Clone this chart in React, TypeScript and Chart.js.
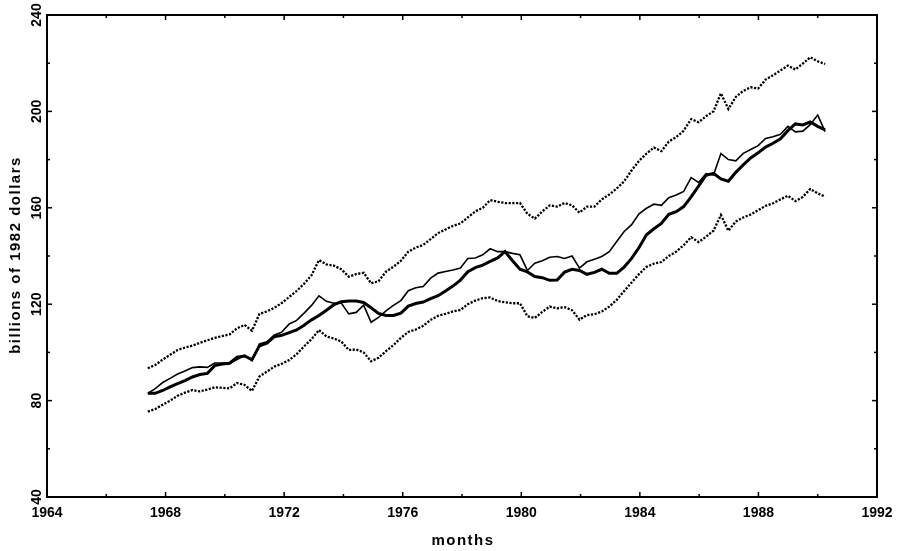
import React, { useEffect, useRef } from "react";
import { Chart, registerables } from "chart.js";

Chart.register(...registerables);

// ---- data ----
const FIRST_MONTH = 1967.4;
const LAST_MONTH = 1990.25;

const upperBand = [
  93.4, 94.8, 97, 99, 101, 102, 102.8, 104, 105, 106,
  106.8, 107.5, 110, 111.4, 109, 116, 117, 118.5, 120.5, 123,
  125.5, 128.5, 132, 138.3, 136.5, 136, 134.5, 131.4, 132.5, 133,
  128.7, 129.5, 133.5, 135.5, 138, 141.8, 143.5, 144.6, 147, 149.5,
  151, 152.5, 153.5, 156, 158.5, 160, 163.2, 162.5, 162, 161.9,
  162, 157.5, 155.5, 158.5, 161, 160.5, 162, 161, 158, 160.5,
  160.5, 163.5, 165.5, 168, 171, 175.5, 179.5, 182.5, 185, 183.5,
  187.5, 189.3, 192, 196.8, 195.5, 198, 200, 207.5, 201, 206,
  208.5, 210, 209.5, 213.2, 215, 217, 219, 217.4, 219.8, 222.5,
  220.8, 219.7,
];

const lowerBand = [
  75.4, 76.5, 78.3, 80, 82, 83.3, 84.4, 83.8, 84.6, 85.5,
  85.3, 85.1, 87.3, 86.5, 84, 90, 92, 94.1, 95.3, 96.8,
  99.3, 102.5, 105.5, 109.3, 106.6, 105.8, 104.5, 101, 101.2, 100,
  96.3, 97.8, 100.5, 103, 106, 108.5, 109.5, 111, 113.5, 115.2,
  116, 117, 117.6, 120, 121.5, 122.5, 122.8, 121.3, 120.8, 120.4,
  120.4, 115, 114.3, 116.8, 119, 118.3, 118.8, 117.5, 113.6, 115.5,
  115.8, 117, 119, 121.8, 125.5, 129, 132.5, 135.5, 136.8, 137.5,
  140, 141.8, 144.5, 147.8, 145.8, 148, 150.5, 157, 150.5, 154.3,
  156, 157.2, 159, 160.8, 161.9, 163.5, 165, 162.8, 164.5, 167.8,
  166, 164.6,
];

const actualSeries = [
  83.0, 85, 87.5, 89.2, 91, 92.3, 93.7, 94, 93.8, 95.6,
  95.6, 95.5, 97, 98.8, 96.5, 103.5, 104.4, 107.2, 108.4, 111.8,
  113.3, 116.3, 119.5, 123.5, 121.2, 120.4, 120.5, 116, 116.6, 119.6,
  112.5, 114.5, 117.2, 119.5, 121.5, 125.6, 126.8, 127.3, 130.8, 132.9,
  133.6, 134.2, 135, 139, 139.2, 140.5, 143, 141.8, 141.8, 141.1,
  140.5, 134, 137, 138, 139.5, 139.8, 139, 140, 135, 137.6,
  138.7, 139.8, 141.8, 146, 150.2, 153, 157.5, 159.8, 161.5, 161,
  164.2, 165.3, 166.8, 172.5, 170.5, 174.2, 173.6, 182.5, 180, 179.5,
  182.6, 184.2, 185.8, 188.8, 189.5, 190.5, 193.8, 191.5, 191.8, 194.5,
  198.5, 191.6,
];

const fittedSeries = [
  83.0, 83.0, 84.2, 85.7, 87, 88.3, 89.8, 90.8, 91.3, 94.5,
  95.2, 95.5, 98, 98.5, 97, 102.7, 103.8, 106.5, 107.1, 108.2,
  109.3, 111.3, 113.5, 115.3, 117.5, 119.8, 121.0, 121.3, 121.3, 120.7,
  118.5, 116.2, 115.3, 115.3, 116.3, 119.2, 120.3, 120.9, 122.3, 123.5,
  125.5, 127.5, 130, 133.5, 135.2, 136.2, 137.8, 139.2, 141.8, 138,
  134.5, 133.4, 131.5, 131, 129.9, 130, 133.3, 134.5, 134, 132.4,
  133.2, 134.5, 132.8, 132.8, 135.4, 139, 143.5, 148.8, 151.3, 153.5,
  157.3, 158.4, 160.5, 164.5, 169, 173.5, 174.3, 172, 171, 174.7,
  177.8, 180.7, 182.8, 185.2, 186.8, 188.6, 192, 194.8, 194.4, 195.6,
  193.8, 192.3,
];

const xTickLabels = [1964, 1968, 1972, 1976, 1980, 1984, 1988, 1992];
const yTickLabels = [40, 80, 120, 160, 200, 240];
const X_TITLE = "months";
const Y_TITLE = "billions of 1982 dollars";

const months = upperBand.map(
  (_, i) => FIRST_MONTH + (i * (LAST_MONTH - FIRST_MONTH)) / (upperBand.length - 1)
);
const toPoints = (vals: number[]) => vals.map((y, i) => ({ x: months[i], y }));

const FONT = '"Liberation Sans", Arial, Helvetica, sans-serif';

const framePlugin = {
  id: "frame",
  afterDatasetsDraw(chart: any) {
    const { ctx, chartArea: a, scales } = chart;
    const xs = scales.x;
    const ys = scales.y;
    ctx.save();
    ctx.strokeStyle = "#000";
    ctx.lineWidth = 2;
    ctx.strokeRect(a.left, a.top, a.right - a.left, a.bottom - a.top);

    ctx.lineWidth = 1.5;
    const seg = (x1: number, y1: number, x2: number, y2: number) => {
      ctx.beginPath();
      ctx.moveTo(x1, y1);
      ctx.lineTo(x2, y2);
      ctx.stroke();
    };
    xs.ticks.forEach((t: any) => {
      const px = xs.getPixelForValue(t.value);
      if (px <= a.left + 1 || px >= a.right - 1) return;
      const len = t.value % 4 === 0 ? 5 : 3;
      seg(px, a.bottom, px, a.bottom - len);
      seg(px, a.top, px, a.top + len);
    });
    ys.ticks.forEach((t: any) => {
      const py = ys.getPixelForValue(t.value);
      if (py <= a.top + 1 || py >= a.bottom - 1) return;
      const len = (t.value - 40) % 40 === 0 ? 5 : 3;
      seg(a.left, py, a.left + len, py);
      seg(a.right, py, a.right - len, py);
    });

    ctx.fillStyle = "#000";
    ctx.font = `bold 14px ${FONT}`;
    ctx.textAlign = "center";
    ctx.textBaseline = "alphabetic";
    xTickLabels.forEach((v) => {
      ctx.fillText(String(v), xs.getPixelForValue(v), a.bottom + 20);
    });
    yTickLabels.forEach((v) => {
      const py = ys.getPixelForValue(v);
      ctx.save();
      ctx.translate(a.left - 6, py);
      ctx.rotate(-Math.PI / 2);
      ctx.fillText(String(v), 0, 0);
      ctx.restore();
    });

    ctx.font = `bold 15px ${FONT}`;
    try {
      ctx.letterSpacing = "1.5px";
    } catch (e) {}
    ctx.fillText(X_TITLE, (a.left + a.right) / 2 + 1, a.bottom + 48);
    ctx.save();
    ctx.translate(20, (a.top + a.bottom) / 2);
    ctx.rotate(-Math.PI / 2);
    ctx.fillText(Y_TITLE, 1, 0);
    ctx.restore();
    ctx.restore();
  },
};

export default function App() {
  const ref = useRef<HTMLCanvasElement | null>(null);

  useEffect(() => {
    if (!ref.current) return;
    const dotted = {
      borderColor: "#000",
      borderWidth: 2.3,
      borderDash: [2.2, 1.5],
      pointRadius: 0,
      tension: 0,
      fill: false,
    };
    const chart = new Chart(ref.current, {
      type: "line",
      data: {
        datasets: [
          { label: "upper", data: toPoints(upperBand), ...dotted },
          { label: "lower", data: toPoints(lowerBand), ...dotted },
          {
            label: "fitted",
            data: toPoints(fittedSeries),
            borderColor: "#000",
            borderWidth: 3,
            pointRadius: 0,
            tension: 0,
            fill: false,
          },
          {
            label: "actual",
            data: toPoints(actualSeries),
            borderColor: "#000",
            borderWidth: 1.6,
            pointRadius: 0,
            tension: 0,
            fill: false,
          },
        ],
      },
      options: {
        responsive: false,
        animation: false,
        devicePixelRatio: 1,
        layout: { padding: { top: 15, right: 25, left: 0, bottom: 0 } },
        plugins: { legend: { display: false }, tooltip: { enabled: false } },
        scales: {
          x: {
            type: "linear",
            min: 1964,
            max: 1992,
            ticks: { stepSize: 2, display: false },
            grid: { display: false },
            border: { display: false },
            afterFit: (s: any) => {
              s.height = 54;
            },
          },
          y: {
            type: "linear",
            min: 40,
            max: 240,
            ticks: { stepSize: 20, display: false },
            grid: { display: false },
            border: { display: false },
            afterFit: (s: any) => {
              s.width = 47;
            },
          },
        },
      },
      plugins: [framePlugin],
    } as any);
    return () => chart.destroy();
  }, []);

  return (
    <div style={{ position: "absolute", left: 0, top: 0, width: 902, height: 551, background: "#fff" }}>
      <canvas ref={ref} width={902} height={551} style={{ display: "block" }} />
    </div>
  );
}
